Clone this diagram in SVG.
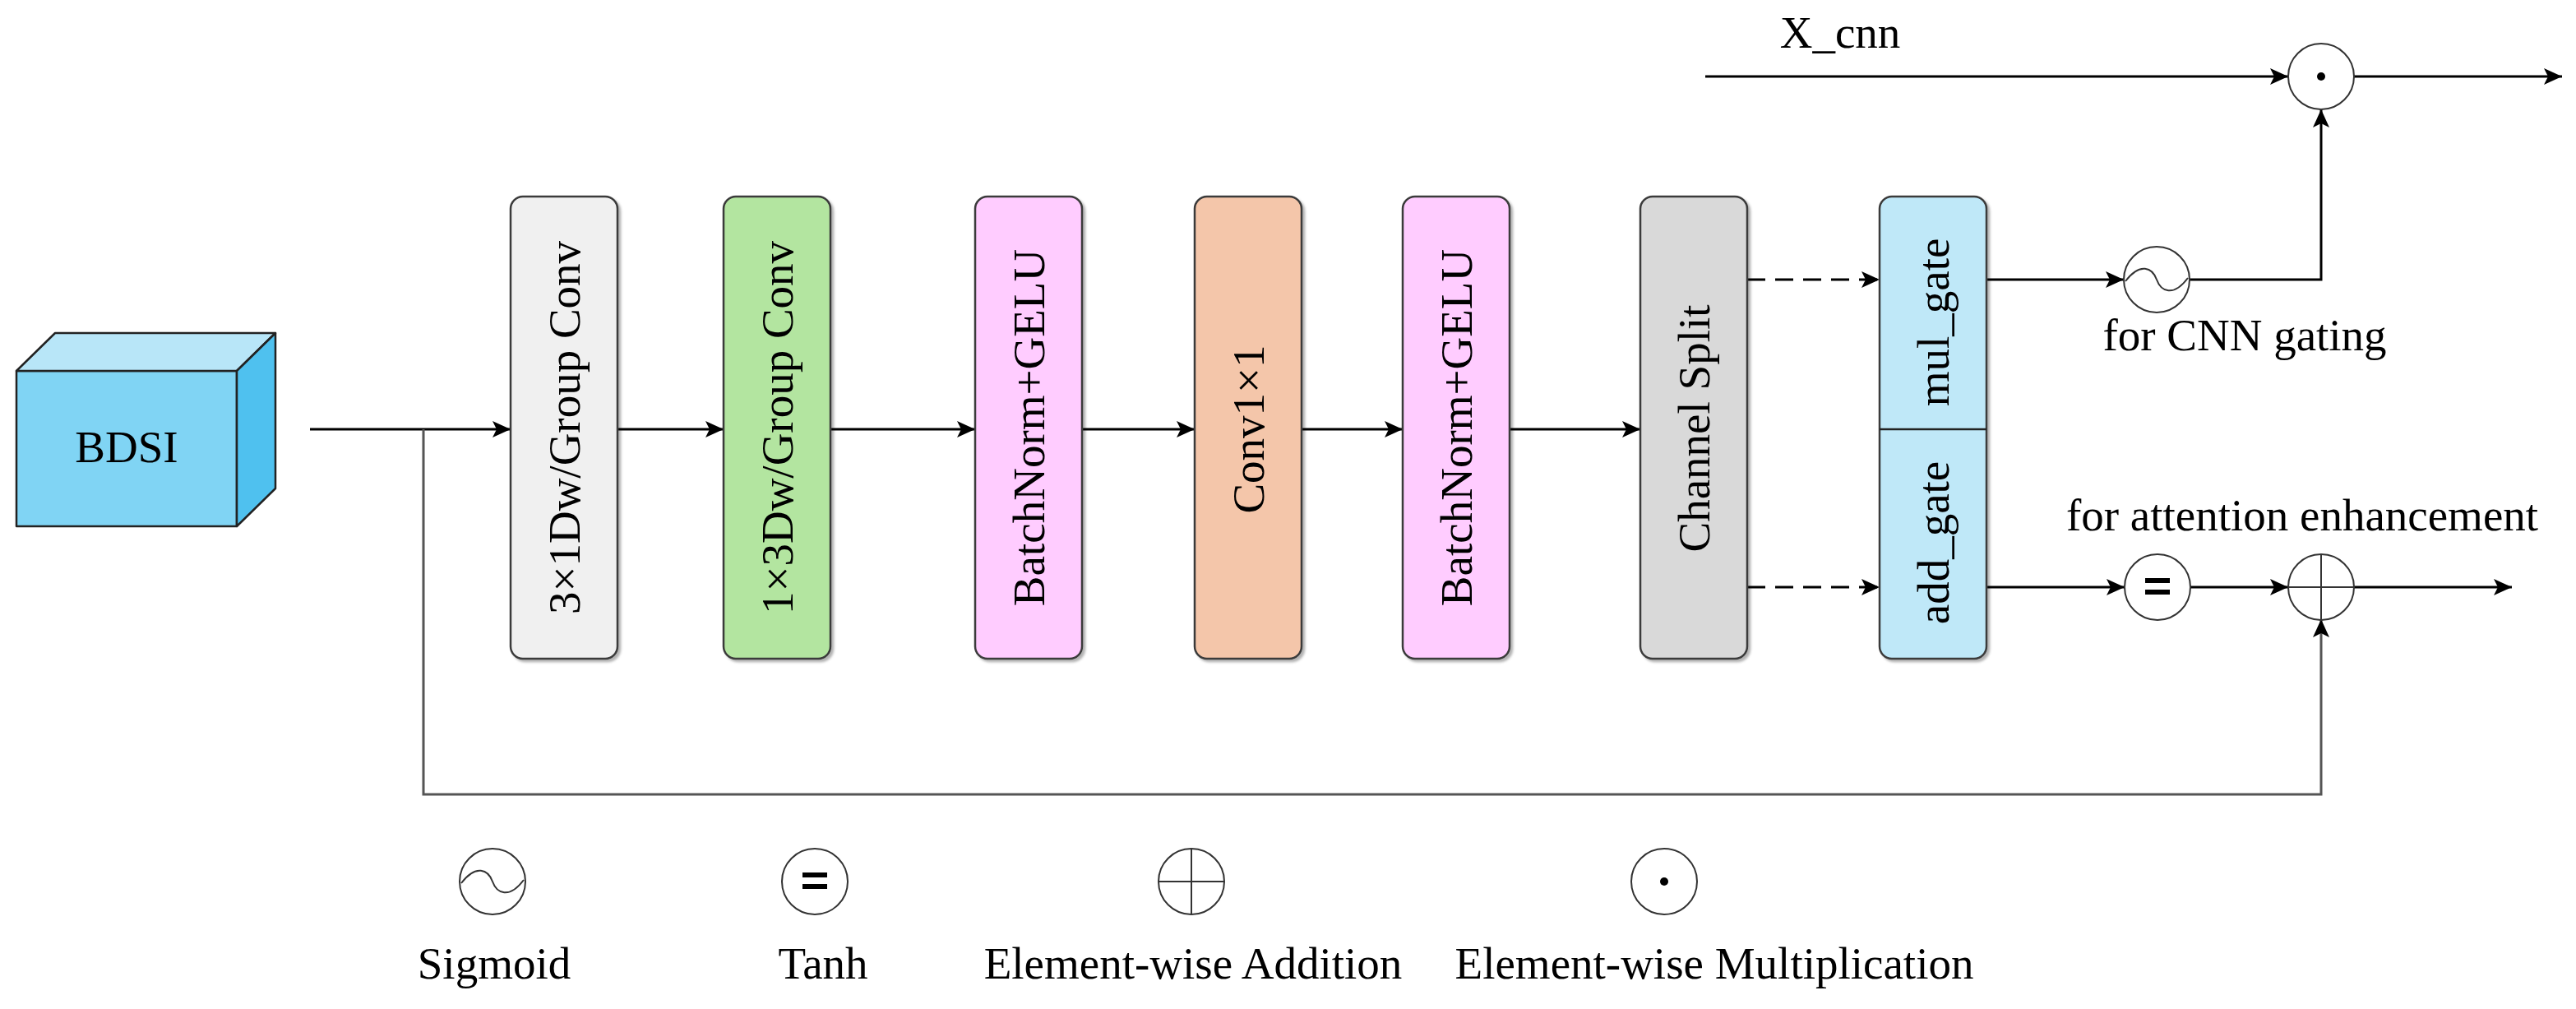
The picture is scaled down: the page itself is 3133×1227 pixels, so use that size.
<svg xmlns="http://www.w3.org/2000/svg" width="3133" height="1227" viewBox="0 0 3133 1227">
<style>
text{font-family:"Liberation Serif","Times New Roman",serif;font-size:55px;fill:#000}
.box{stroke:#3a3a3a;stroke-width:2.5;filter:url(#sh)}
.ln{fill:none;stroke:#000;stroke-width:3}
.gl{fill:none;stroke:#555;stroke-width:3}
.dash{fill:none;stroke:#000;stroke-width:3;stroke-dasharray:22 12}
.op{fill:#fff;stroke:#333;stroke-width:2}
.sym{fill:none;stroke:#333;stroke-width:2}
.cube{stroke:#222;stroke-width:2.5;stroke-linejoin:round}
</style>
<defs>
<marker id="ah" markerUnits="userSpaceOnUse" markerWidth="22" markerHeight="20" refX="22" refY="10" orient="auto">
<path d="M0,0 L22,10 L0,20 L5,10 Z" fill="#000"/>
</marker>
<filter id="sh" x="-10%" y="-5%" width="125%" height="115%">
<feDropShadow dx="3" dy="3" stdDeviation="1.5" flood-color="#000" flood-opacity="0.3"/>
</filter>
</defs>
<rect width="3133" height="1227" fill="#fff"/>

<g id="connectors">
<path class="ln" d="M377,522 H621" marker-end="url(#ah)"/>
<path class="gl" d="M515,522 V966 H2823 V753" marker-end="url(#ah)"/>
<path class="ln" d="M751,522 H880" marker-end="url(#ah)"/>
<path class="ln" d="M1011,522 H1186" marker-end="url(#ah)"/>
<path class="ln" d="M1316,522 H1453" marker-end="url(#ah)"/>
<path class="ln" d="M1583,522 H1706" marker-end="url(#ah)"/>
<path class="ln" d="M1835,522 H1995" marker-end="url(#ah)"/>
<path class="dash" d="M2125,340 H2286" marker-end="url(#ah)"/>
<path class="dash" d="M2125,714 H2286" marker-end="url(#ah)"/>
<path class="ln" d="M2416,340 H2583" marker-end="url(#ah)"/>
<path class="ln" d="M2663,340 H2823 V133" marker-end="url(#ah)"/>
<path class="ln" d="M2074,93 H2783" marker-end="url(#ah)"/>
<path class="ln" d="M2863,93 H3116" marker-end="url(#ah)"/>
<path class="ln" d="M2416,714 H2584" marker-end="url(#ah)"/>
<path class="ln" d="M2664,714 H2783" marker-end="url(#ah)"/>
<path class="ln" d="M2863,714 H3055" marker-end="url(#ah)"/>
</g>

<g id="bdsi">
<rect class="cube" x="20" y="451" width="268" height="189" fill="#80d4f4"/>
<polygon class="cube" points="20,451 67,405 335,405 288,451" fill="#b8e6f8"/>
<polygon class="cube" points="288,451 335,405 335,594 288,640" fill="#4fc1ef"/>
<text x="154" y="562" text-anchor="middle">BDSI</text>
</g>

<g id="conv3x1">
<rect class="box" x="621" y="239" width="130" height="562" rx="15" fill="#f0f0f0"/>
<text transform="translate(686,520) rotate(-90)" text-anchor="middle" dy="0.35em">3×1Dw/Group Conv</text>
</g>
<g id="conv1x3">
<rect class="box" x="880" y="239" width="130" height="562" rx="15" fill="#b3e5a0"/>
<text transform="translate(945,520) rotate(-90)" text-anchor="middle" dy="0.35em">1×3Dw/Group Conv</text>
</g>
<g id="bn1">
<rect class="box" x="1186" y="239" width="130" height="562" rx="15" fill="#ffccff"/>
<text transform="translate(1251,520) rotate(-90)" text-anchor="middle" dy="0.35em">BatchNorm+GELU</text>
</g>
<g id="conv1x1">
<rect class="box" x="1453" y="239" width="130" height="562" rx="15" fill="#f4c6aa"/>
<text transform="translate(1518,522) rotate(-90)" text-anchor="middle" dy="0.35em">Conv1×1</text>
</g>
<g id="bn2">
<rect class="box" x="1706" y="239" width="130" height="562" rx="15" fill="#ffccff"/>
<text transform="translate(1771,520) rotate(-90)" text-anchor="middle" dy="0.35em">BatchNorm+GELU</text>
</g>
<g id="split">
<rect class="box" x="1995" y="239" width="130" height="562" rx="15" fill="#d9d9d9"/>
<text transform="translate(2060,521) rotate(-90)" text-anchor="middle" dy="0.35em">Channel Split</text>
</g>
<g id="gates">
<rect class="box" x="2286" y="239" width="130" height="562" rx="15" fill="#bfe8f8"/>
<line x1="2286" y1="522" x2="2416" y2="522" stroke="#222" stroke-width="2.5"/>
<text transform="translate(2351,392) rotate(-90)" text-anchor="middle" dy="0.35em">mul_gate</text>
<text transform="translate(2351,660) rotate(-90)" text-anchor="middle" dy="0.35em">add_gate</text>
</g>

<g id="sigmoid-op">
<circle class="op" cx="2623" cy="340" r="40"/>
<path class="sym" d="M2585,342 C2603,318 2618,326 2623,340 C2628,354 2643,362 2661,338"/>
</g>
<g id="mul-op">
<circle class="op" cx="2823" cy="93" r="40"/>
<circle cx="2823" cy="93" r="5" fill="#000"/>
</g>
<g id="tanh-op">
<circle class="op" cx="2624" cy="714" r="40"/>
<rect x="2609" y="703" width="30" height="6" fill="#000"/>
<rect x="2609" y="717" width="30" height="6" fill="#000"/>
</g>
<g id="add-op">
<circle class="op" cx="2823" cy="714" r="40"/>
<path class="sym" d="M2783,714 H2863 M2823,674 V754"/>
</g>

<g id="labels">
<text x="2238" y="58" text-anchor="middle">X_cnn</text>
<text x="2730" y="426" text-anchor="middle">for CNN gating</text>
<text x="2800" y="645" text-anchor="middle">for attention enhancement</text>
</g>

<g id="legend">
<circle class="op" cx="599" cy="1072" r="40"/>
<path class="sym" d="M561,1074 C579,1050 594,1058 599,1072 C604,1086 619,1094 637,1070"/>
<circle class="op" cx="991" cy="1072" r="40"/>
<rect x="976" y="1061" width="30" height="6" fill="#000"/>
<rect x="976" y="1075" width="30" height="6" fill="#000"/>
<circle class="op" cx="1449" cy="1072" r="40"/>
<path class="sym" d="M1409,1072 H1489 M1449,1032 V1112"/>
<circle class="op" cx="2024" cy="1072" r="40"/>
<circle cx="2024" cy="1072" r="5" fill="#000"/>
<text x="601" y="1190" text-anchor="middle">Sigmoid</text>
<text x="1001" y="1190" text-anchor="middle">Tanh</text>
<text x="1451" y="1190" text-anchor="middle">Element-wise Addition</text>
<text x="2085" y="1190" text-anchor="middle">Element-wise Multiplication</text>
</g>
</svg>
